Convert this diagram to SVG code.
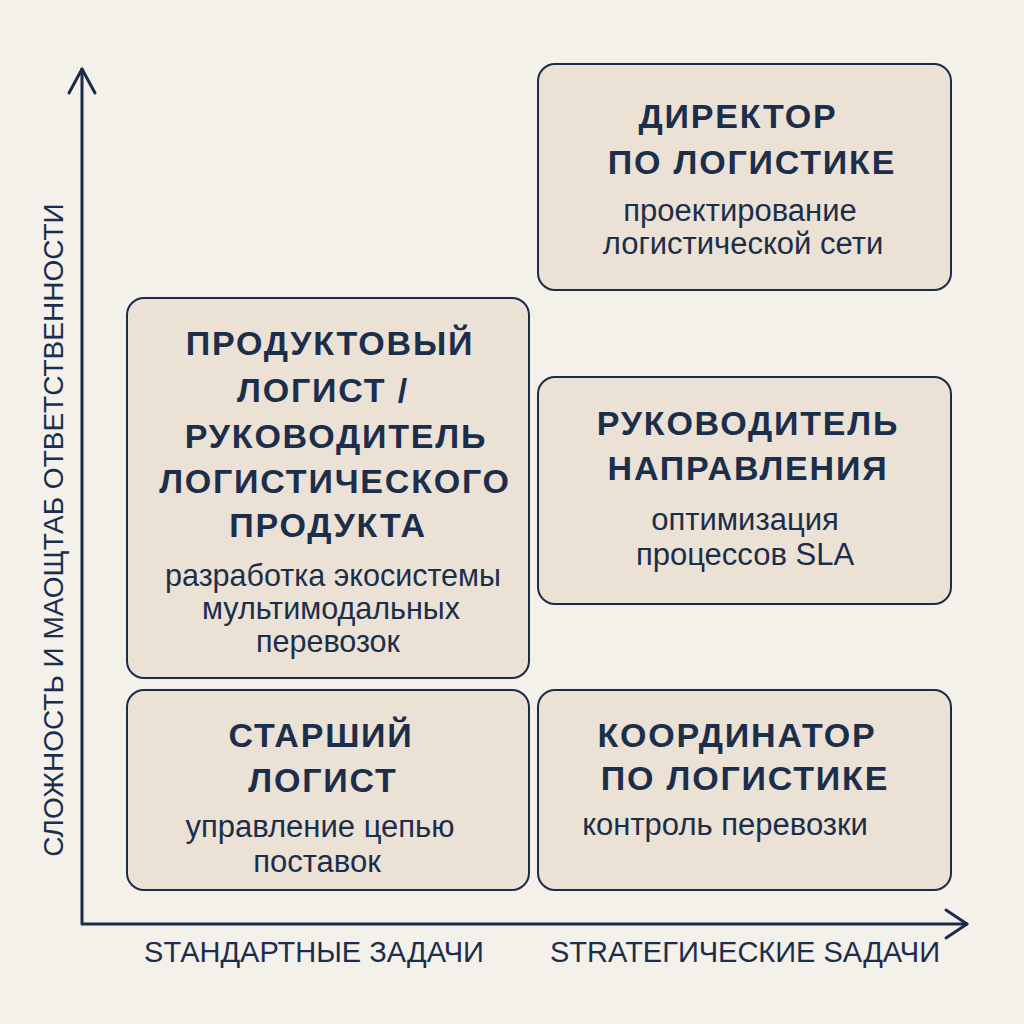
<svg xmlns="http://www.w3.org/2000/svg" width="1024" height="1024" viewBox="0 0 1024 1024">
<style>
.box{fill:#ebe1d4;stroke:#1c2c48;stroke-width:2}
.t{font-family:"Liberation Sans",Arial,sans-serif;font-weight:bold;font-size:34px;letter-spacing:1.8px;fill:#1b2e4b;text-anchor:middle}
.s{font-family:"Liberation Sans",Arial,sans-serif;font-size:31px;fill:#1b2e4b;text-anchor:middle}
.ax{font-family:"Liberation Sans",Arial,sans-serif;font-size:29px;fill:#1b2e4b;text-anchor:middle}
.axis{fill:none;stroke:#1a2b4a;stroke-width:3;stroke-linecap:round;stroke-linejoin:round}
</style>
<rect width="1024" height="1024" fill="#f4f0ea"/>
<g id="axes">
<path class="axis" d="M82,69 V924 H967"/>
<path class="axis" d="M69,93 L82,69 L95,93"/>
<path class="axis" d="M946,910 L967,924 L946,938"/>
</g>
<g id="director">
<rect class="box" x="538" y="64" width="413" height="226" rx="17"/>
<text class="t" x="738" y="128">ДИРЕКТОР</text>
<text class="t" x="752" y="174">ПО ЛОГИСТИКЕ</text>
<text class="s" x="740" y="221">проектирование</text>
<text class="s" x="743" y="254">логистической сети</text>
</g>
<g id="product">
<rect class="box" x="127" y="298" width="402" height="380" rx="17"/>
<text class="t" x="330" y="355">ПРОДУКТОВЫЙ</text>
<text class="t" x="323" y="402">ЛОГИСТ /</text>
<text class="t" x="336" y="448">РУКОВОДИТЕЛЬ</text>
<text class="t" x="335" y="493">ЛОГИСТИЧЕСКОГО</text>
<text class="t" x="328" y="537">ПРОДУКТА</text>
<text class="s" x="333" y="586" style="font-size:30.5px">разработка экосистемы</text>
<text class="s" x="331" y="619" style="font-size:30.5px">мультимодальных</text>
<text class="s" x="328" y="652" style="font-size:30.5px">перевозок</text>
</g>
<g id="head">
<rect class="box" x="538" y="377" width="413" height="227" rx="17"/>
<text class="t" x="748" y="435">РУКОВОДИТЕЛЬ</text>
<text class="t" x="748" y="480">НАПРАВЛЕНИЯ</text>
<text class="s" x="745" y="530">оптимизация</text>
<text class="s" x="745" y="565">процессов SLA</text>
</g>
<g id="senior">
<rect class="box" x="127" y="690" width="402" height="200" rx="17"/>
<text class="t" x="321" y="747">СТАРШИЙ</text>
<text class="t" x="323" y="792">ЛОГИСТ</text>
<text class="s" x="320" y="837">управление цепью</text>
<text class="s" x="317" y="872">поставок</text>
</g>
<g id="coordinator">
<rect class="box" x="538" y="690" width="413" height="200" rx="17"/>
<text class="t" x="737" y="747">КООРДИНАТОР</text>
<text class="t" x="745" y="790">ПО ЛОГИСТИКЕ</text>
<text class="s" x="725" y="835">контроль перевозки</text>
</g>
<g id="labels">
<text class="ax" x="314" y="962">SТАНДАРТНЫЕ ЗАДАЧИ</text>
<text class="ax" x="745" y="962">STRATEГИЧЕСКИЕ SАДАЧИ</text>
<text class="ax" transform="translate(63,530) rotate(-90)" x="0" y="0" style="font-size:28px">СЛОЖНОСТЬ И МАОЩТАБ ОТВЕТСТВЕННОСТИ</text>
</g>
</svg>
